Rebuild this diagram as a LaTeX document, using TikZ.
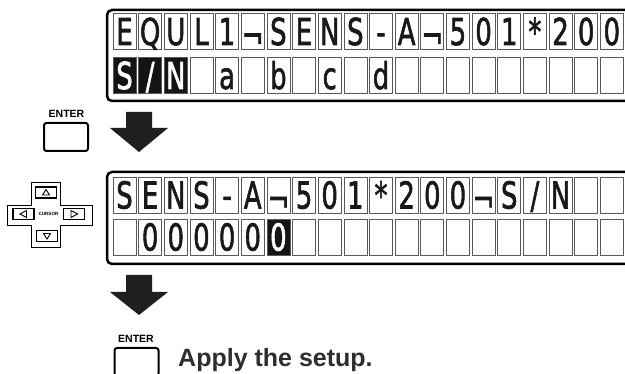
\documentclass[tikz,border=0pt]{standalone}
\usepackage{fontspec}
\setmainfont{Liberation Sans}
\newfontfamily\lcdfont[FakeBold=2]{DejaVu Sans}
\usepackage{graphicx}
\newcommand{\lcdglyph}[1]{\scalebox{0.7}[1]{#1}}
\newcommand{\lcdnot}{\raisebox{-4pt}{¬}}
\tikzset{
  lcdcell/.style={draw=black!65, line width=0.7pt, minimum width=23pt, minimum height=36pt,
    inner sep=0pt, text height=27pt, text depth=0pt,
    font=\lcdfont\fontsize{37}{37}\selectfont, text=black!90},
  invcell/.style={lcdcell, fill=black!92, text=white},
  panel/.style={draw=black, line width=2.5pt, rounded corners=5pt},
  enterkey/.style={draw=black, line width=2pt, rounded corners=2.5pt,
    minimum width=44pt, minimum height=28pt, inner sep=0pt},
  enterlabel/.style={font=\bfseries\fontsize{10.5}{10.5}\selectfont, inner sep=0pt},
  padbtn/.style={draw=black, line width=1.4pt, minimum width=21pt, minimum height=11pt, inner sep=0pt},
  padtri/.style={draw=black, line width=0.9pt, line join=miter},
  blockarrow/.style={fill=black!88},
}
\begin{document}
\begin{tikzpicture}[x=1pt, y=-1pt]
\useasboundingbox (0,0) rectangle (625,374);
\clip (0,0) rectangle (625,374);

% ---------- top LCD panel ----------
\draw[panel] (107,10) rectangle (650,101);
\foreach \c [count=\i from 0] in {E,Q,U,L,1,\lcdnot,S,E,N,S,-,A,\lcdnot,5,0,1,*,2,0,0}
  \node[lcdcell] (ta\i) at ({124.5+25.65*\i},31.5) {\lcdglyph{\c}};
\foreach \c [count=\i from 0] in {S,/,N}
  \node[invcell] (tb\i) at ({124.5+25.65*\i},75.5) {\lcdglyph{\c}};
\foreach \c [count=\i from 3] in {{},a,{},b,{},c,{},d,{},{},{},{},{},{},{},{},{}}
  \node[lcdcell] (tb\i) at ({124.5+25.65*\i},75.5) {\lcdglyph{\c}};

% ---------- first ENTER + arrow ----------
\node[enterlabel] (enterlab1) at (66.5,114) {ENTER};
\node[enterkey] (enter1) at (66,137) {};
\fill[blockarrow] (126,112) -- (152,112) -- (152,128) -- (168,128) -- (139,152)
  -- (110,128) -- (126,128) -- cycle;

% ---------- cursor pad ----------
\draw[line width=0.8pt] (31,182) -- (60,182) -- (60,205) -- (92,205) -- (92,225)
  -- (60,225) -- (60,247) -- (31,247) -- (31,225) -- (7,225) -- (7,205) -- (31,205) -- cycle;
\node[padbtn] (padup) at (46,192.5) {};
\node[padbtn] (padleft) at (23.5,214) {};
\node[padbtn] (padright) at (74,214) {};
\node[padbtn] (paddown) at (47,236) {};
\node[font=\bfseries\fontsize{4.6}{4.6}\selectfont, inner sep=0pt] (cursorlab) at (48.5,214) {CURSOR};
\draw[padtri] ([xshift=-3.5pt,yshift=-2.5pt]padup.center) -- ([xshift=3.5pt,yshift=-2.5pt]padup.center)
  -- ([yshift=3pt]padup.center) -- cycle;
\draw[padtri] ([xshift=-3.5pt,yshift=2.5pt]paddown.center) -- ([xshift=3.5pt,yshift=2.5pt]paddown.center)
  -- ([yshift=-3pt]paddown.center) -- cycle;
\draw[padtri] ([xshift=3pt,yshift=3.5pt]padleft.center) -- ([xshift=3pt,yshift=-3.5pt]padleft.center)
  -- ([xshift=-3.5pt]padleft.center) -- cycle;
\draw[padtri] ([xshift=-3pt,yshift=3.5pt]padright.center) -- ([xshift=-3pt,yshift=-3.5pt]padright.center)
  -- ([xshift=3.5pt]padright.center) -- cycle;

% ---------- bottom LCD panel ----------
\draw[panel] (107,172) rectangle (650,264);
\foreach \c [count=\i from 0] in {S,E,N,S,-,A,\lcdnot,5,0,1,*,2,0,0,\lcdnot,S,/,N,{},{}}
  \node[lcdcell] (ba\i) at ({124.5+25.65*\i},195) {\lcdglyph{\c}};
\foreach \c [count=\i from 0] in {{},0,0,0,0,0}
  \node[lcdcell] (bb\i) at ({124.5+25.65*\i},237) {\lcdglyph{\c}};
\node[invcell] (bb6) at ({124.5+25.65*6},237) {\lcdglyph{0}};
\foreach \c [count=\i from 7] in {{},{},{},{},{},{},{},{},{},{},{},{},{}}
  \node[lcdcell] (bb\i) at ({124.5+25.65*\i},237) {\lcdglyph{\c}};

% ---------- second arrow + ENTER ----------
\fill[blockarrow] (126,275) -- (152,275) -- (152,292) -- (168,292) -- (139,315)
  -- (110,292) -- (126,292) -- cycle;
\node[enterlabel] (enterlab2) at (136,339) {ENTER};
\node[enterkey] (enter2) at (136.5,362) {};
\node[anchor=base west, inner sep=0pt, font=\bfseries\fontsize{25}{25}\selectfont, text=black!82]
  (applytext) at (178,367) {Apply the setup.};
\end{tikzpicture}
\end{document}
